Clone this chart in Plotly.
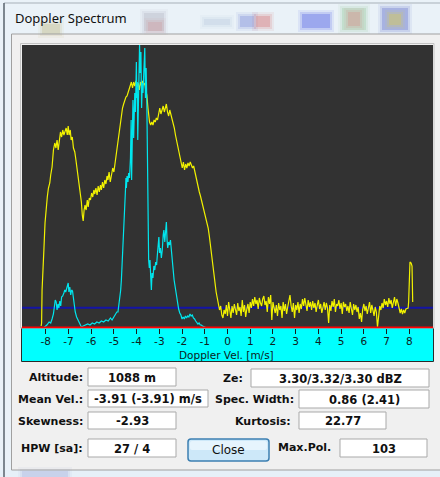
import plotly.graph_objects as go
import numpy as np

W, H = 440, 477

# ---------------- spectrum data ----------------
# Doppler velocity [m/s] and spectral power (dB above the display floor)
yellow_vel = [
    -8.20, -8.18, -8.16, -8.12, -8.08, -8.03, -7.98, -7.93, -7.88, -7.82, -7.78, -7.72,
    -7.66, -7.60, -7.55, -7.50, -7.45, -7.40, -7.35, -7.30, -7.25, -7.20, -7.15, -7.10,
    -7.05, -7.01, -6.97, -6.92, -6.88, -6.83, -6.78, -6.72, -6.67, -6.62, -6.57, -6.52,
    -6.47, -6.43, -6.39, -6.35, -6.31, -6.27, -6.22, -6.17, -6.13, -6.08, -6.03, -5.98,
    -5.93, -5.88, -5.84, -5.79, -5.74, -5.69, -5.64, -5.59, -5.55, -5.50, -5.45, -5.40,
    -5.35, -5.30, -5.26, -5.21, -5.16, -5.10, -5.05, -5.00, -4.96, -4.90, -4.86, -4.82,
    -4.77, -4.72, -4.67, -4.62, -4.57, -4.52, -4.47, -4.42, -4.37, -4.32, -4.27, -4.23,
    -4.18, -4.13, -4.08, -4.03, -3.98, -3.93, -3.88, -3.83, -3.78, -3.73, -3.68, -3.64,
    -3.60, -3.55, -3.50, -3.47, -3.43, -3.38, -3.33, -3.28, -3.23, -3.18, -3.13, -3.08,
    -3.03, -2.98, -2.93, -2.88, -2.83, -2.78, -2.73, -2.69, -2.64, -2.59, -2.54, -2.49,
    -2.44, -2.39, -2.34, -2.29, -2.24, -2.19, -2.14, -2.09, -2.04, -1.99, -1.94, -1.89,
    -1.84, -1.79, -1.74, -1.69, -1.64, -1.59, -1.54, -1.49, -1.44, -1.39, -1.34, -1.29,
    -1.24, -1.19, -1.15, -1.10, -1.05, -1.00, -0.95, -0.90, -0.85, -0.80, -0.75, -0.70,
    -0.65, -0.60, -0.55, -0.50, -0.45, -0.40, -0.35, -0.30, -0.25, -0.20, -0.15,
]
yellow_pow = [
    0.2, 0.5, 3.8, 5.3, 7.8, 10.5, 12.3, 13.1, 14.0, 14.5, 15.3, 16.1,
    17.8, 18.5, 18.0, 18.8, 17.8, 19.0, 19.6, 19.1, 19.8, 19.3, 19.6, 20.0,
    19.3, 20.2, 19.3, 19.8, 18.8, 19.1, 18.0, 17.6, 16.8, 16.0, 15.3, 14.2,
    13.3, 12.6, 11.3, 10.7, 11.8, 12.3, 11.8, 12.8, 12.1, 13.0, 12.8, 13.5,
    13.1, 13.8, 13.4, 14.0, 13.3, 14.2, 13.6, 14.3, 13.8, 14.6, 14.0, 14.8,
    14.4, 15.2, 14.8, 15.6, 14.6, 15.3, 16.0, 15.6, 16.3, 16.8, 17.6, 18.3,
    19.3, 20.3, 21.0, 22.0, 22.4, 22.9, 23.1, 23.2, 23.6, 24.0, 24.4, 24.6,
    24.0, 24.6, 24.2, 24.7, 24.1, 24.5, 23.8, 24.6, 24.2, 24.7, 24.3, 24.5,
    23.8, 23.3, 22.0, 21.0, 20.6, 20.3, 20.6, 20.3, 20.8, 20.6, 21.0, 20.8,
    21.5, 22.0, 21.4, 21.8, 22.2, 21.6, 22.0, 22.4, 21.6, 21.2, 21.8, 21.4,
    21.0, 20.4, 20.0, 19.3, 18.8, 18.3, 17.8, 17.2, 16.8, 16.0, 16.6, 15.8,
    16.4, 16.0, 16.5, 16.2, 16.6, 16.3, 16.0, 16.2, 15.6, 15.2, 14.6, 14.2,
    13.6, 13.2, 12.8, 12.3, 11.8, 11.4, 11.1, 10.6, 10.0, 9.2, 8.2, 7.2,
    6.0, 5.2, 4.4, 3.6, 3.0, 2.4, 1.8, 2.2, 1.3, 1.0, 1.8,
]
# noise section on the regular FFT bin grid
noise_first_vel, noise_bin = -0.10, 0.05
yellow_noise_pow = [
    1.4, 2.3, 1.2, 2.6, 1.8, 1.0, 2.2, 1.5, 2.4, 1.9, 1.3,
    2.5, 1.7, 2.1, 1.2, 2.8, 1.6, 2.3, 1.1, 1.9, 2.4, 1.5,
    2.6, 2.0, 2.9, 2.2, 3.1, 2.4, 2.8, 1.9, 3.0, 2.5, 2.2,
    2.9, 3.2, 2.3, 2.7, 1.6, 3.1, 2.4, 3.3, 0.8, 2.6, 2.0,
    1.5, 2.3, 1.2, 2.5, 1.8, 2.2, 1.0, 2.6, 1.7, 2.4, 1.4,
    2.1, 2.7, 3.3, 2.2, 1.6, 2.5, 1.0, 2.3, 1.8, 2.6, 1.5,
    2.4, 1.9, 2.9, 2.2, 3.0, 2.5, 1.7, 2.8, 2.1, 2.6, 1.8,
    2.7, 2.0, 2.5, 1.6, 2.3, 2.8, 1.9, 2.4, 1.5, 2.2, 2.6,
    1.8, 2.5, 2.0, 0.5, 2.3, 1.7, 2.7, 2.1, 2.9, 1.6, 2.4,
    2.2, 2.8, 1.9, 2.5, 1.4, 2.6, 2.1, 2.4, 1.7, 2.2, 1.5,
    2.6, 2.0, 1.3, 2.4, 1.8, 2.3, 1.6, 2.1, 0.9, 1.5, 0.6,
    1.9, 2.4, 1.7, 2.2, 1.4, 2.0, 2.6, 1.5, 2.3, 1.8, 1.2,
    2.1, 1.6, 0.1, 1.4, 2.2, 1.8, 2.5, 2.0, 2.9, 2.3, 2.7,
    2.1, 3.0, 2.4, 2.8, 2.0, 2.6, 3.1, 2.2, 2.9, 2.5, 2.0,
    1.5, 1.9, 1.4, 1.8, 1.5, 1.9, 2.0,
]
yellow_tail_vel = [7.95, 7.97, 7.99, 8.03, 8.08, 8.12, 8.15]
yellow_tail_pow = [2.0, 2.6, 5.5, 6.6, 6.5, 6.2, 2.6]

cyan_vel = [
    -8.10, -8.04, -7.95, -7.85, -7.78, -7.72, -7.66, -7.62, -7.58, -7.54, -7.50, -7.46,
    -7.42, -7.38, -7.34, -7.30, -7.25, -7.20, -7.16, -7.12, -7.08, -7.04, -7.01, -6.98,
    -6.94, -6.90, -6.86, -6.82, -6.78, -6.74, -6.70, -6.64, -6.57, -6.50, -6.43, -6.35,
    -6.25, -6.15, -6.05, -5.95, -5.85, -5.75, -5.65, -5.55, -5.45, -5.35, -5.25, -5.15,
    -5.08, -5.00, -4.93, -4.87, -4.82, -4.78, -4.74, -4.70, -4.67, -4.63, -4.60, -4.56,
    -4.52, -4.49, -4.47, -4.45, -4.42, -4.38, -4.35, -4.31, -4.27, -4.24, -4.22, -4.19,
    -4.16, -4.13, -4.10, -4.08, -4.05, -4.03, -4.01, -3.99, -3.97, -3.95, -3.93, -3.90,
    -3.87, -3.84, -3.81, -3.78, -3.75, -3.72, -3.69, -3.66, -3.64, -3.61, -3.58, -3.55,
    -3.52, -3.50, -3.49, -3.47, -3.44, -3.41, -3.38, -3.35, -3.32, -3.28, -3.24, -3.20,
    -3.16, -3.12, -3.08, -3.05, -3.02, -2.99, -2.95, -2.91, -2.87, -2.83, -2.80, -2.76,
    -2.72, -2.69, -2.66, -2.63, -2.59, -2.55, -2.51, -2.47, -2.43, -2.39, -2.35, -2.30,
    -2.25, -2.20, -2.15, -2.10, -2.05, -2.00, -1.95, -1.90, -1.85, -1.80, -1.75, -1.70,
    -1.65, -1.60, -1.55, -1.50, -1.45, -1.40, -1.35, -1.30, -1.25, -1.20, -1.15, -1.10,
    -1.00, -0.93,
]
cyan_pow = [
    0.0, 0.1, 0.3, 0.6, 0.5, 0.9, 1.4, 2.1, 2.8, 2.6, 1.8, 2.4,
    2.0, 2.7, 2.2, 3.1, 3.2, 3.5, 3.8, 3.6, 4.0, 4.2, 4.5, 3.6,
    4.1, 3.3, 3.8, 3.7, 3.0, 2.2, 1.6, 1.1, 0.7, 0.4, 0.1, 0.2,
    0.3, 0.4, 0.3, 0.5, 0.4, 0.6, 0.5, 0.7, 0.6, 0.8, 0.7, 1.0,
    0.8, 1.1, 1.3, 1.6, 1.6, 2.2, 2.8, 3.8, 4.8, 6.5, 8.1, 10.2,
    12.1, 13.8, 15.0, 14.0, 15.2, 14.6, 15.5, 15.0, 17.0, 20.8, 14.8, 19.5,
    22.8, 19.0, 22.0, 23.5, 21.6, 24.0, 26.6, 23.0, 24.6, 18.8, 22.5, 25.0,
    28.3, 25.5, 27.6, 22.0, 24.5, 23.5, 25.0, 26.0, 28.0, 23.0, 26.0, 22.5,
    16.0, 13.0, 8.0, 6.8, 6.0, 6.8, 5.2, 3.8, 5.5, 5.0, 6.2, 5.8,
    6.6, 6.3, 7.5, 8.5, 9.1, 7.5, 8.0, 7.0, 7.8, 9.3, 9.8, 8.6,
    10.2, 10.6, 8.8, 8.0, 8.6, 8.3, 8.8, 7.5, 6.5, 5.8, 4.8, 4.0,
    3.2, 2.5, 1.9, 1.5, 1.3, 0.9, 1.1, 0.9, 1.2, 1.0, 1.2, 1.1,
    1.4, 1.2, 1.3, 1.0, 0.9, 0.7, 0.6, 0.4, 0.5, 0.3, 0.3, 0.2,
    0.1, 0.0,
]

noise_level = 2.03
tick_vals = [-8, -7, -6, -5, -4, -3, -2, -1, 0, 1, 2, 3, 4, 5, 6, 7, 8]
tick_text = ["-8", "-7", "-6", "-5", "-4", "-3", "-2", "-1", "0",
             "1", "2", "3", "4", "5", "6", "7", "8"]

# moment fields shown under the spectrum
info_labels = ["Altitude:", "Mean Vel.:", "Skewness:", "HPW [sa]:",
               "Ze:", "Spec. Width:", "Kurtosis:", "Max.Pol."]
info_values = ["1088 m", "-3.91 (-3.91) m/s", "-2.93", "27 / 4",
               "3.30/3.32/3.30 dBZ", "0.86 (2.41)", "22.77", "103"]

# ---------------- assemble the yellow trace ----------------
noise_vel = noise_first_vel + noise_bin * np.arange(len(yellow_noise_pow))
y_vel = list(yellow_vel) + [round(v, 2) for v in noise_vel] + yellow_tail_vel
y_pow = list(yellow_pow) + yellow_noise_pow + yellow_tail_pow


def fx(px):
    return px / W


def fy(py):
    return 1 - py / H


fig = go.Figure()
fig.add_trace(go.Scatter(x=y_vel, y=y_pow, mode="lines",
                         line=dict(color="#f2f200", width=1.2),
                         hoverinfo="skip"))
fig.add_trace(go.Scatter(x=cyan_vel, y=cyan_pow, mode="lines",
                         line=dict(color="#00e6ee", width=1.2),
                         hoverinfo="skip"))

shapes = []


def rect(x0, y0, x1, y1, fill, line=None, lw=1, layer="below", opacity=1.0):
    shapes.append(dict(type="rect", xref="paper", yref="paper",
                       x0=fx(x0), x1=fx(x1), y0=fy(y1), y1=fy(y0),
                       fillcolor=fill, opacity=opacity, layer=layer,
                       line=dict(color=line or "rgba(0,0,0,0)", width=lw if line else 0)))


# window glass frame (title bar, left and bottom edges)
rect(0, 0, 440, 34, "#eaf2f8")
rect(0, 0, 12, 477, "#eaf2f8")
rect(0, 470, 440, 477, "#e6f0f8")
# blurred background icons seen through the glass title bar
for (x0, y0, x1, y1, c, o) in [
    (42, 24, 60, 34, "#b8b070", 0.30),
    (144, 13, 164, 31, "#8c8ca0", 0.22), (148, 22, 162, 31, "#d07070", 0.20),
    (204, 19, 230, 25, "#b0c0d8", 0.30),
    (240, 16, 254, 27, "#6070d0", 0.30), (256, 16, 270, 27, "#d05050", 0.30),
    (302, 14, 330, 28, "#3040e0", 0.32),
    (342, 8, 366, 30, "#60b060", 0.20), (348, 12, 360, 26, "#e06060", 0.22),
    (382, 8, 408, 30, "#4050c0", 0.30), (389, 14, 401, 25, "#e0d040", 0.35),
    (22, 471, 68, 477, "#8090d0", 0.22),
]:
    for g, k in ((4, 0.25), (2, 0.45), (0, 0.8)):
        rect(x0 - g, y0 - g, x1 + g, y1 + g, c, opacity=o * k)
shapes.append(dict(type="line", xref="paper", yref="paper", layer="below",
                   x0=fx(4), x1=fx(440), y0=fy(3), y1=fy(3),
                   line=dict(color="#a7b0b8", width=1)))
shapes.append(dict(type="line", xref="paper", yref="paper", layer="below",
                   x0=fx(4), x1=fx(4), y0=fy(3), y1=fy(477),
                   line=dict(color="#59636c", width=1.5)))
# dialog client panel border
shapes.append(dict(type="rect", xref="paper", yref="paper", layer="below",
                   x0=fx(11.5), x1=fx(441), y0=fy(470), y1=fy(34),
                   line=dict(color="#a0a0a0", width=1), fillcolor="rgba(0,0,0,0)"))

# cyan velocity-axis strip below the spectrum
rect(21.5, 328, 433.5, 361.5, "#00ffff", line="#2a2a2a", lw=1)
# thin light frame around the spectrum area
shapes.append(dict(type="rect", xref="paper", yref="paper", layer="below",
                   x0=fx(20.5), x1=fx(434), y0=fy(328), y1=fy(43.5),
                   line=dict(color="#c4c4c4", width=1), fillcolor="rgba(0,0,0,0)"))

# noise level (blue) and floor (red), spanning the spectrum area only
shapes.append(dict(type="line", xref="x domain", yref="y", layer="below",
                   x0=0, x1=1, y0=noise_level, y1=noise_level,
                   line=dict(color="#1414a6", width=2)))
shapes.append(dict(type="line", xref="x domain", yref="y", layer="above",
                   x0=0, x1=1, y0=0.05, y1=0.05,
                   line=dict(color="#ff0000", width=2)))

# text boxes for the moments
boxes = [(88, 368, 176, 386), (88, 390, 208, 407), (88, 412, 176, 429), (88, 439, 176, 457),
         (251, 369, 429, 387), (299, 390, 429, 408), (299, 412, 386, 429), (340, 439, 427, 457)]
label_pos = [(85, 377), (85, 399), (85, 421), (85, 448),
             (245, 378), (296, 399), (293, 421), (333, 447)]
for (x0, y0, x1, y1) in boxes:
    rect(x0, y0, x1, y1, "#ffffff", line="#a9a9a9", lw=1)

# "Close" button with rounded corners
bx0, by0, bx1, by1, r = 188, 439, 269, 461, 3


def rounded(x0, y0, x1, y1, r):
    X = lambda p: fx(p)
    Y = lambda p: fy(p)
    return (f"M {X(x0 + r)},{Y(y0)} L {X(x1 - r)},{Y(y0)} Q {X(x1)},{Y(y0)} {X(x1)},{Y(y0 + r)} "
            f"L {X(x1)},{Y(y1 - r)} Q {X(x1)},{Y(y1)} {X(x1 - r)},{Y(y1)} "
            f"L {X(x0 + r)},{Y(y1)} Q {X(x0)},{Y(y1)} {X(x0)},{Y(y1 - r)} "
            f"L {X(x0)},{Y(y0 + r)} Q {X(x0)},{Y(y0)} {X(x0 + r)},{Y(y0)} Z")


shapes.append(dict(type="path", xref="paper", yref="paper", layer="below",
                   path=rounded(bx0, by0, bx1, by1, r), fillcolor="#cde8f9",
                   line=dict(color="#3c7fb1", width=1.5)))
shapes.append(dict(type="path", xref="paper", yref="paper", layer="below",
                   path=rounded(bx0 + 2, by0 + 2, bx1 - 2, (by0 + by1) / 2, 2),
                   fillcolor="#e6f4fd", line=dict(width=0)))

annotations = []
bold = dict(family="DejaVu Sans", size=11, color="#101010", weight="bold")
for text, (x, y) in zip(info_labels, label_pos):
    annotations.append(dict(text=text, xref="paper", yref="paper", x=fx(x), y=fy(y),
                            xanchor="right", yanchor="middle", showarrow=False,
                            font=bold))
for text, (x0, y0, x1, y1) in zip(info_values, boxes):
    annotations.append(dict(text=text, xref="paper", yref="paper",
                            x=fx((x0 + x1) / 2), y=fy((y0 + y1) / 2 + 0.5),
                            xanchor="center", yanchor="middle", showarrow=False,
                            font=dict(family="DejaVu Sans", size=11.5, color="#101010",
                                      weight="bold")))
annotations.append(dict(text="Close", xref="paper", yref="paper",
                        x=fx((bx0 + bx1) / 2), y=fy((by0 + by1) / 2),
                        xanchor="center", yanchor="middle", showarrow=False,
                        font=dict(family="DejaVu Sans", size=12, color="#101010")))
annotations.append(dict(text="Doppler Spectrum", xref="paper", yref="paper",
                        x=fx(13), y=fy(18), xanchor="left", yanchor="middle",
                        showarrow=False,
                        font=dict(family="Noto Sans", size=13, color="#111111")))
annotations.append(dict(text="Doppler Vel. [m/s]", xref="paper", yref="paper",
                        x=fx(226), y=fy(355), xanchor="center", yanchor="middle",
                        showarrow=False, borderpad=0,
                        font=dict(family="DejaVu Sans", size=10.5, color="#0c2222")))

fig.update_layout(
    width=W, height=H, autosize=False,
    margin=dict(l=0, r=0, t=0, b=0, pad=0),
    paper_bgcolor="#f0f0f0", plot_bgcolor="#323232",
    showlegend=False,
    shapes=shapes, annotations=annotations,
    xaxis=dict(domain=[fx(22), fx(433)], range=[-9.043, 9.043],
               tickmode="array", tickvals=tick_vals, ticktext=tick_text,
               ticks="outside", ticklen=5, tickwidth=1, tickcolor="#1a1a1a",
               ticklabelstandoff=-2,
               tickfont=dict(family="DejaVu Sans", size=10.5, color="#0c2222"),
               showgrid=False, zeroline=False, showline=False, fixedrange=True),
    yaxis=dict(domain=[fy(328), fy(45)], range=[0, 28.3],
               visible=False, showgrid=False, zeroline=False, fixedrange=True),
)

fig.write_html("out.html")
